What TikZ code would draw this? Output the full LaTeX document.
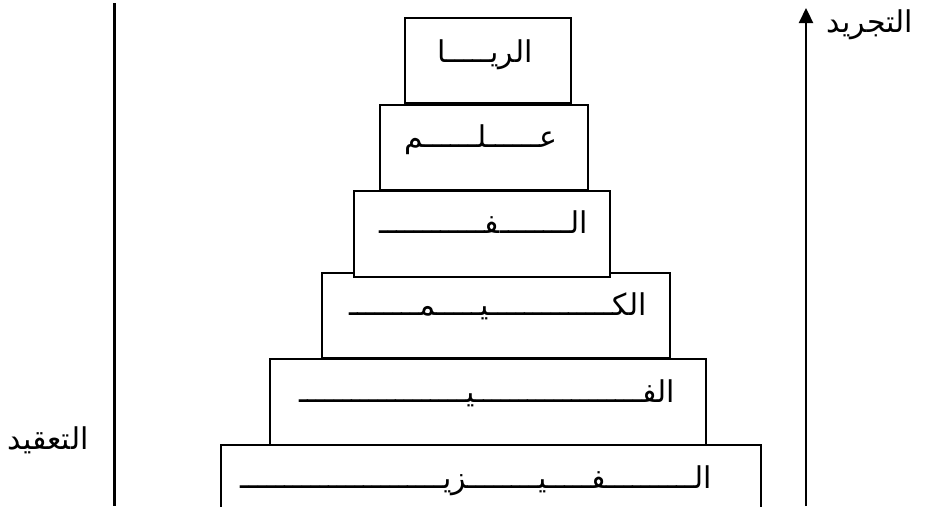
\documentclass[tikz,border=0pt]{standalone}
\usepackage{fontspec}
\usetikzlibrary{arrows.meta}
\TeXXeTstate=1
\newfontfamily\arabicfont[Script=Arabic]{DejaVu Sans}
\ExplSyntaxOn
\cs_new:Npn \kash #1 { \prg_replicate:nn {#1} {ـ} }
\ExplSyntaxOff
\tikzset{
  stepbox/.style={draw=black, line width=2pt, fill=white},
  boxtext/.style={inner sep=0pt, anchor=base east, font=\arabicfont\fontsize{30}{34}\selectfont},
  sidelabel/.style={inner sep=0pt, font=\arabicfont\fontsize{30}{34}\selectfont},
}
\begin{document}
\begin{tikzpicture}[x=1pt,y=-1pt]
\useasboundingbox (0,0) rectangle (925,506);
% axes
\coordinate (ltop) at (114,3);
\coordinate (lbot) at (114,506);
\draw[line width=3pt] (ltop) -- (lbot);
\coordinate (abot) at (806,506);
\coordinate (atop) at (806,8);
\draw[line width=2.2pt, -{Triangle[width=14pt,length=15pt]}] (abot) -- (atop);
% boxes, bottom first
\draw[stepbox] (221,510) -- (221,445) -- (761,445) -- (761,510);
\node[stepbox, minimum width=436pt, minimum height=86pt, inner sep=0pt] (b5) at (488,402) {};
\node[stepbox, minimum width=348pt, minimum height=85pt, inner sep=0pt] (b4) at (496,315.5) {};
\node[stepbox, minimum width=256pt, minimum height=86pt, inner sep=0pt] (b3) at (482,234) {};
\node[stepbox, minimum width=208pt, minimum height=85pt, inner sep=0pt] (b2) at (484,147.5) {};
\node[stepbox, minimum width=166pt, minimum height=85pt, inner sep=0pt] (b1) at (488,60.5) {};
% texts
\node[boxtext] (t1) at (533,62) {\beginR الري\kash{5}ا\endR};
\node[boxtext] (t2) at (558,147) {\beginR ع\kash{6}ل\kash{6}م\endR};
\node[boxtext] (t3) at (588,233) {\beginR ال\kash{8}ف\kash{12}\endR};
\node[boxtext] (t4) at (647,315) {\beginR الك\kash{14}ي\kash{5}م\kash{8}\endR};
\node[boxtext] (t5) at (675,402) {\beginR الف\kash{19}ي\kash{19}\endR};
\node[boxtext] (t6) at (712,488) {\beginR ال\kash{10}ف\kash{5}ي\kash{8}زي\kash{23}\endR};
% side labels
\node[sidelabel] (top) at (870,25) {\beginR التجريد\endR};
\node[sidelabel] (cmp) at (48,440) {\beginR التعقيد\endR};
\end{tikzpicture}
\end{document}
